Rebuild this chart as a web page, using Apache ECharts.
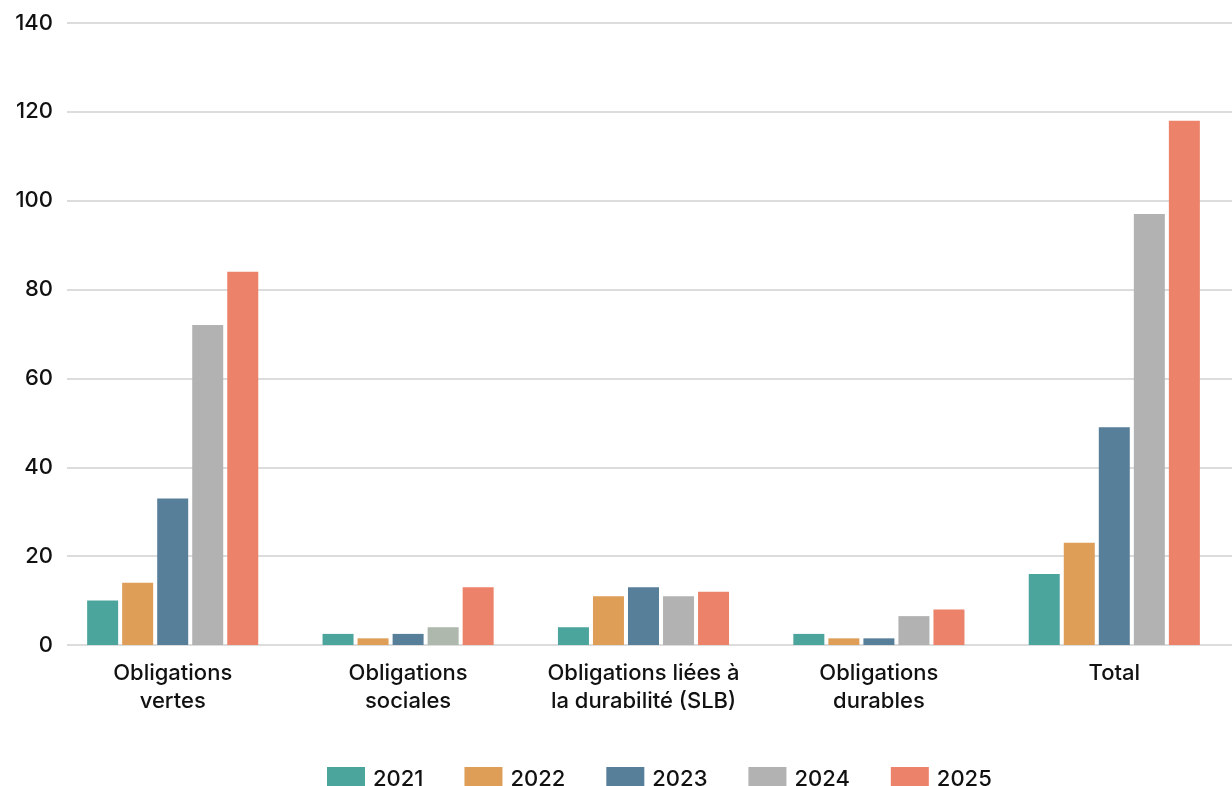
<!DOCTYPE html>
<html><head><meta charset="utf-8">
<script src="https://cdn.jsdelivr.net/npm/echarts@6/dist/echarts.min.js"></script>
<style>html,body{margin:0;padding:0;background:#fff}#c{width:1232px;height:786px}</style>
</head><body><div id="c"></div>
<script>
const categories = ["Obligations\nvertes", "Obligations\nsociales", "Obligations liées à\nla durabilité (SLB)", "Obligations\ndurables", "Total"];
const years = ["2021", "2022", "2023", "2024", "2025"];
const v2021 = [10, 2.5, 4, 2.5, 16];
const v2022 = [14, 1.5, 11, 1.5, 23];
const v2023 = [33, 2.5, 13, 1.5, 49];
const v2024 = [72, 4, 11, 6.5, 97];
const v2025 = [84, 13, 12, 8, 118];
const yTicks = [0, 20, 40, 60, 80, 100, 120, 140];

const colors = ["#4CA59C", "#DE9E58", "#587F99", "#B2B2B2", "#EC8269"];
const seriesVals = [v2021, v2022, v2023, v2024, v2025];
const font = "Inter, 'Noto Sans', sans-serif";
const yMin = yTicks[0], yMax = yTicks[yTicks.length - 1];

const chart = echarts.init(document.getElementById('c'), null, {renderer: 'canvas'});
chart.setOption({
  animation: false,
  color: colors,
  grid: [
    {left: 55, right: 0, top: 23, bottom: 141, containLabel: false},
    {left: 67, right: 0, top: 23, bottom: 141, containLabel: false}
  ],
  legend: {
    left: 322, top: 762,
    itemWidth: 38, itemHeight: 24, itemGap: 41,
    icon: 'rect',
    textStyle: {fontFamily: font, fontSize: 22, fontWeight: 500, color: '#111', padding: [0, 0, 0, 3]},
    data: years
  },
  xAxis: [{
    type: 'category', data: categories, gridIndex: 0,
    axisTick: {show: false},
    axisLine: {show: false},
    axisLabel: {fontFamily: font, fontSize: 22, fontWeight: 500, color: '#111', lineHeight: 28, margin: 14, interval: 0}
  }, {
    type: 'value', gridIndex: 1, show: false, min: 0, max: 1
  }],
  yAxis: [{
    type: 'value', gridIndex: 0, min: yMin, max: yMax, interval: 20,
    axisLine: {show: false}, axisTick: {show: false},
    splitLine: {show: false},
    axisLabel: {fontFamily: font, fontSize: 22, fontWeight: 500, color: '#111', margin: 2}
  }, {
    type: 'value', gridIndex: 1, min: yMin, max: yMax, interval: 20,
    axisLine: {show: false}, axisTick: {show: false},
    axisLabel: {show: false},
    splitLine: {lineStyle: {color: '#dcdcdc', width: 2}}
  }],
  series: years.map((y, i) => ({
    name: y, type: 'bar', barWidth: 31, barGap: '13%', z: 3,
    data: seriesVals[i].map((v, j) => (i === 3 && j === 1) ? {value: v, itemStyle: {color: '#AEB8AD'}} : v)
  }))
});
</script></body></html>
